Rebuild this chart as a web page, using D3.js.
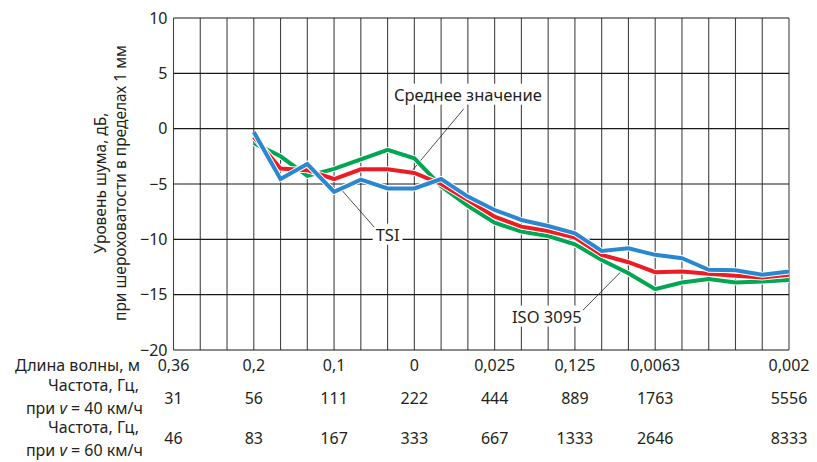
<!DOCTYPE html>
<html>
<head>
<meta charset="utf-8">
<script src="https://cdn.jsdelivr.net/npm/d3@7"></script>
<style>
  body { margin: 0; background: #fff; }
  svg { font-family: "Noto Sans", sans-serif; }
</style>
</head>
<body>
<div id="chart"></div>
<script>
const width = 817;
const height = 462;

// band index of each point (1/3-octave steps), data starts at band 3
const bands = d3.range(3, 24);
const meanValues = [-0.75, -3.6, -3.75, -4.55, -3.67, -3.67, -4.0, -5.0, -6.45, -7.95, -8.85, -9.25, -9.85, -11.4, -12.07, -12.97, -12.9, -13.1, -13.3, -13.45, -13.2];
const tsiValues = [-0.3, -4.55, -3.2, -5.7, -4.6, -5.4, -5.4, -4.55, -6.14, -7.35, -8.25, -8.8, -9.45, -11.05, -10.8, -11.4, -11.7, -12.75, -12.8, -13.2, -12.9];
const isoValues = [-1.3, -2.5, -4.27, -3.64, -2.77, -1.92, -2.68, -5.2, -6.98, -8.5, -9.3, -9.7, -10.45, -11.86, -13.07, -14.5, -13.9, -13.58, -13.9, -13.8, -13.67];

// bottom tick rows
const tickBands = [0, 3, 6, 9, 12, 15, 18, 23];
const waveLabels = ["0,36", "0,2", "0,1", "0", "0,025", "0,125", "0,0063", "0,002"];
const freq40Labels = ["31", "56", "111", "222", "444", "889", "1763", "5556"];
const freq60Labels = ["46", "83", "167", "333", "667", "1333", "2646", "8333"];
const yTicks = [10, 5, 0, -5, -10, -15, -20];

const series = [
    { name: "ISO 3095", values: isoValues, color: "#00a651" },
    { name: "Среднее значение", values: meanValues, color: "#ed1c24" },
    { name: "TSI", values: tsiValues, color: "#2b88d0" }
];

// callouts: text position and leader end, in band / dB units
const callouts = [
    { text: "Среднее значение", x: 11.0, y: 3.05, from: [10.85, 1.8], to: [8.9, -3.85] },
    { text: "TSI", x: 8.0, y: -9.6, from: [7.5, -8.9], to: [6.25, -5.45] },
    { text: "ISO 3095", x: 13.95, y: -17.0, from: [15.3, -16.4], to: [16.75, -12.85] }
];

const svg = d3.select("#chart")
    .append("svg")
    .attr("width", width)
    .attr("height", height);

const x = d3.scaleLinear().domain([0, 23]).range([173.5, 789]);
const y = d3.scaleLinear().domain([-20, 10]).range([350, 18]);

// grid
const grid = svg.append("g");
grid.selectAll(".vline")
    .data(d3.range(0, 24))
    .enter().append("line")
    .attr("x1", d => x(d)).attr("x2", d => x(d))
    .attr("y1", y(10)).attr("y2", y(-20))
    .attr("stroke", "#444")
    .attr("stroke-width", 1.1);
grid.selectAll(".hline")
    .data(yTicks)
    .enter().append("line")
    .attr("x1", x(0)).attr("x2", x(23))
    .attr("y1", d => y(d)).attr("y2", d => y(d))
    .attr("stroke", "#1a1a1a")
    .attr("stroke-width", 1.1);

// y tick labels
svg.append("g").selectAll("text")
    .data(yTicks)
    .enter().append("text")
    .attr("x", x(0) - 6)
    .attr("y", d => y(d))
    .attr("dy", "0.35em")
    .attr("text-anchor", "end")
    .attr("font-size", 16)
    .attr("fill", "#231f20")
    .text(d => d < 0 ? "\u2212" + Math.abs(d) : d);

// y title
const yTitle = svg.append("text")
    .attr("transform", `translate(106,${y(-5) - 1}) rotate(-90)`)
    .attr("text-anchor", "middle")
    .attr("font-size", 15.5)
    .attr("fill", "#231f20");
yTitle.append("tspan").attr("x", 0).attr("y", 0).text("Уровень шума, дБ,");
yTitle.append("tspan").attr("x", 0).attr("y", 20).text("при шероховатости в пределах 1 мм");

// callout boxes and leaders (under the lines)
const cg = svg.append("g");
callouts.forEach(c => {
    cg.append("line")
        .attr("x1", x(c.from[0])).attr("y1", y(c.from[1]))
        .attr("x2", x(c.to[0])).attr("y2", y(c.to[1]))
        .attr("stroke", "#231f20")
        .attr("stroke-width", 0.8);
    const t = cg.append("text")
        .attr("x", x(c.x)).attr("y", y(c.y))
        .attr("dy", "0.35em")
        .attr("text-anchor", "middle")
        .attr("font-size", 16.5)
        .attr("fill", "#231f20")
        .text(c.text);
    const b = t.node().getBBox();
    cg.insert("rect", "text")
        .attr("x", b.x - 3).attr("y", b.y + 1)
        .attr("width", b.width + 6).attr("height", b.height - 2)
        .attr("fill", "#fff");
});

// series lines
const line = d3.line()
    .x((d, i) => x(bands[i]))
    .y(d => y(d));

const lg = svg.append("g");
series.forEach(s => {
    lg.append("path")
        .attr("d", line(s.values))
        .attr("fill", "none")
        .attr("stroke", "#fff")
        .attr("stroke-width", 6)
        .attr("stroke-linejoin", "miter");
    lg.append("path")
        .attr("d", line(s.values))
        .attr("fill", "none")
        .attr("stroke", s.color)
        .attr("stroke-width", 4)
        .attr("stroke-linejoin", "miter");
});

// bottom rows
const bottom = svg.append("g").attr("font-size", 16).attr("fill", "#231f20");
function tickRow(labels, yPos) {
    bottom.append("g").selectAll("text")
        .data(labels)
        .enter().append("text")
        .attr("x", (d, i) => x(tickBands[i]))
        .attr("y", yPos)
        .attr("dy", "0.35em")
        .attr("text-anchor", "middle")
        .text(d => d);
}
tickRow(waveLabels, 365);
tickRow(freq40Labels, 398);
tickRow(freq60Labels, 438);

const rowX = 140;
bottom.append("text").attr("x", rowX).attr("y", 365).attr("dy", "0.35em")
    .attr("text-anchor", "end").text("Длина волны, м");
[[385, 408, "40"], [427, 450, "60"]].forEach(([y1, y2, v]) => {
    bottom.append("text").attr("x", rowX - 1).attr("y", y1).attr("dy", "0.35em")
        .attr("text-anchor", "end").text("Частота, Гц,");
    const t = bottom.append("text").attr("x", rowX + 3).attr("y", y2).attr("dy", "0.35em")
        .attr("text-anchor", "end");
    t.append("tspan").text("при ");
    t.append("tspan").attr("font-style", "italic").text("v");
    t.append("tspan").text(` = ${v} км/ч`);
});
</script>
</body>
</html>
